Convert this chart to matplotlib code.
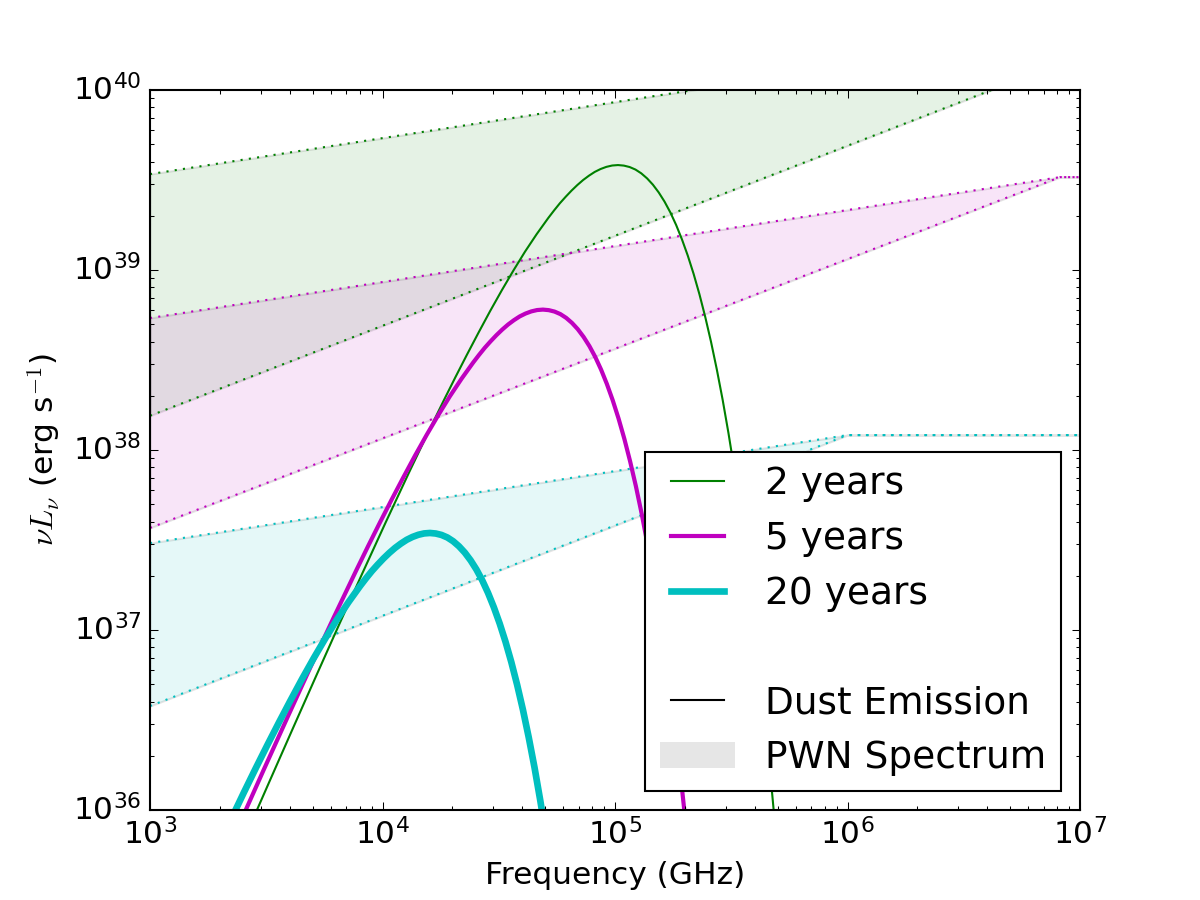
import numpy as np
import matplotlib
matplotlib.use('Agg')
import matplotlib.pyplot as plt
from matplotlib.lines import Line2D
from matplotlib.patches import Patch

plt.style.use('classic')
plt.rcParams['mathtext.fontset'] = 'cm'

# dust emission: all three curves share one shape, read relative to the peak
# (offsets in log10 frequency and log10 nuLnu)
dust_dlognu = [-1.8, -1.7, -1.6, -1.5, -1.4, -1.3, -1.2, -1.1, -1.0, -0.9,
               -0.8, -0.75, -0.7, -0.65, -0.6, -0.55, -0.5, -0.45, -0.4, -0.35,
               -0.3, -0.275, -0.25, -0.225, -0.2, -0.175, -0.15, -0.125, -0.1, -0.075,
               -0.05, -0.025, 0.0, 0.025, 0.05, 0.075, 0.1, 0.125, 0.15, 0.175,
               0.2, 0.225, 0.25, 0.275, 0.3, 0.325, 0.35, 0.375, 0.4, 0.425,
               0.45, 0.475, 0.5, 0.525, 0.55, 0.575, 0.6, 0.625, 0.65, 0.675, 0.7]
dust_dlogL = [-4.313, -4.016, -3.721, -3.427, -3.134, -2.843, -2.554, -2.269, -1.987, -1.711,
              -1.441, -1.309, -1.180, -1.054, -0.931, -0.811, -0.696, -0.586, -0.481, -0.384,
              -0.294, -0.252, -0.212, -0.176, -0.142, -0.111, -0.083, -0.059, -0.038, -0.022,
              -0.010, -0.0025, 0.0, -0.003, -0.011, -0.025, -0.046, -0.074, -0.109, -0.152,
              -0.203, -0.263, -0.333, -0.413, -0.503, -0.604, -0.717, -0.843, -0.982, -1.136,
              -1.304, -1.489, -1.690, -1.909, -2.147, -2.405, -2.684, -2.985, -3.311, -3.661, -4.039]

# peak of each curve: log10(nu / GHz), log10(nuLnu / erg s^-1)
dust_peak_lognu = [5.013, 4.690, 4.204]
dust_peak_logL = [39.583, 38.780, 37.539]

# PWN spectrum bands (upper / lower edge)
pwn_2yr_nu = [1e3, 1e7]
pwn_2yr_hi = [3.41e39, 2.15e40]
pwn_2yr_lo = [1.55e38, 1.55e40]

pwn_5yr_nu = [1e3, 8.2e6, 1e7]
pwn_5yr_hi = [5.41e38, 3.28e39, 3.28e39]
pwn_5yr_lo = [3.69e37, 3.28e39, 3.28e39]

pwn_20yr_nu = [1e3, 1e6, 1e7]
pwn_20yr_hi = [3.04e37, 1.21e38, 1.21e38]
pwn_20yr_lo = [3.78e36, 1.21e38, 1.21e38]

labels = ['2 years', '5 years', '20 years']
colors = ['g', 'm', 'c']
widths = [1, 2, 3.2]

fig = plt.figure(figsize=(8, 6), dpi=150)
ax = fig.add_subplot(111)

# PWN bands
bands = [(pwn_2yr_nu, pwn_2yr_hi, pwn_2yr_lo),
         (pwn_5yr_nu, pwn_5yr_hi, pwn_5yr_lo),
         (pwn_20yr_nu, pwn_20yr_hi, pwn_20yr_lo)]
for (nu, hi, lo), c in zip(bands, colors):
    ax.fill_between(nu, lo, hi, facecolor=c, edgecolor='k', alpha=0.1, linewidth=1)
    ax.plot(nu, hi, ':', color=c, lw=1)
    ax.plot(nu, lo, ':', color=c, lw=1)

# dust curves
dnu = np.array(dust_dlognu)
dL = np.array(dust_dlogL)
for px, py, c, w in zip(dust_peak_lognu, dust_peak_logL, colors, widths):
    ax.plot(10 ** (px + dnu), 10 ** (py + dL), '-', color=c, lw=w)

ax.set_xscale('log')
ax.set_yscale('log')
ax.set_xlim(1e3, 1e7)
ax.set_ylim(1e36, 1e40)
ax.set_xlabel('Frequency (GHz)', fontsize=15)
ax.set_ylabel(r'$\nu L_\nu$ (erg s$^{-1}$)', fontsize=15)
ax.tick_params(axis='both', which='major', labelsize=15)

# legend
handles = [Line2D([], [], color=c, lw=w) for c, w in zip(colors, widths)]
handles.append(Line2D([], [], color='none'))
handles.append(Line2D([], [], color='k', lw=1))
handles.append(Patch(facecolor='0.9', edgecolor='none'))
leg_labels = labels + ['', 'Dust Emission', 'PWN Spectrum']
ax.legend(handles, leg_labels, loc='lower right', fontsize=18)

fig.savefig('out.png', dpi=150, facecolor='w')
